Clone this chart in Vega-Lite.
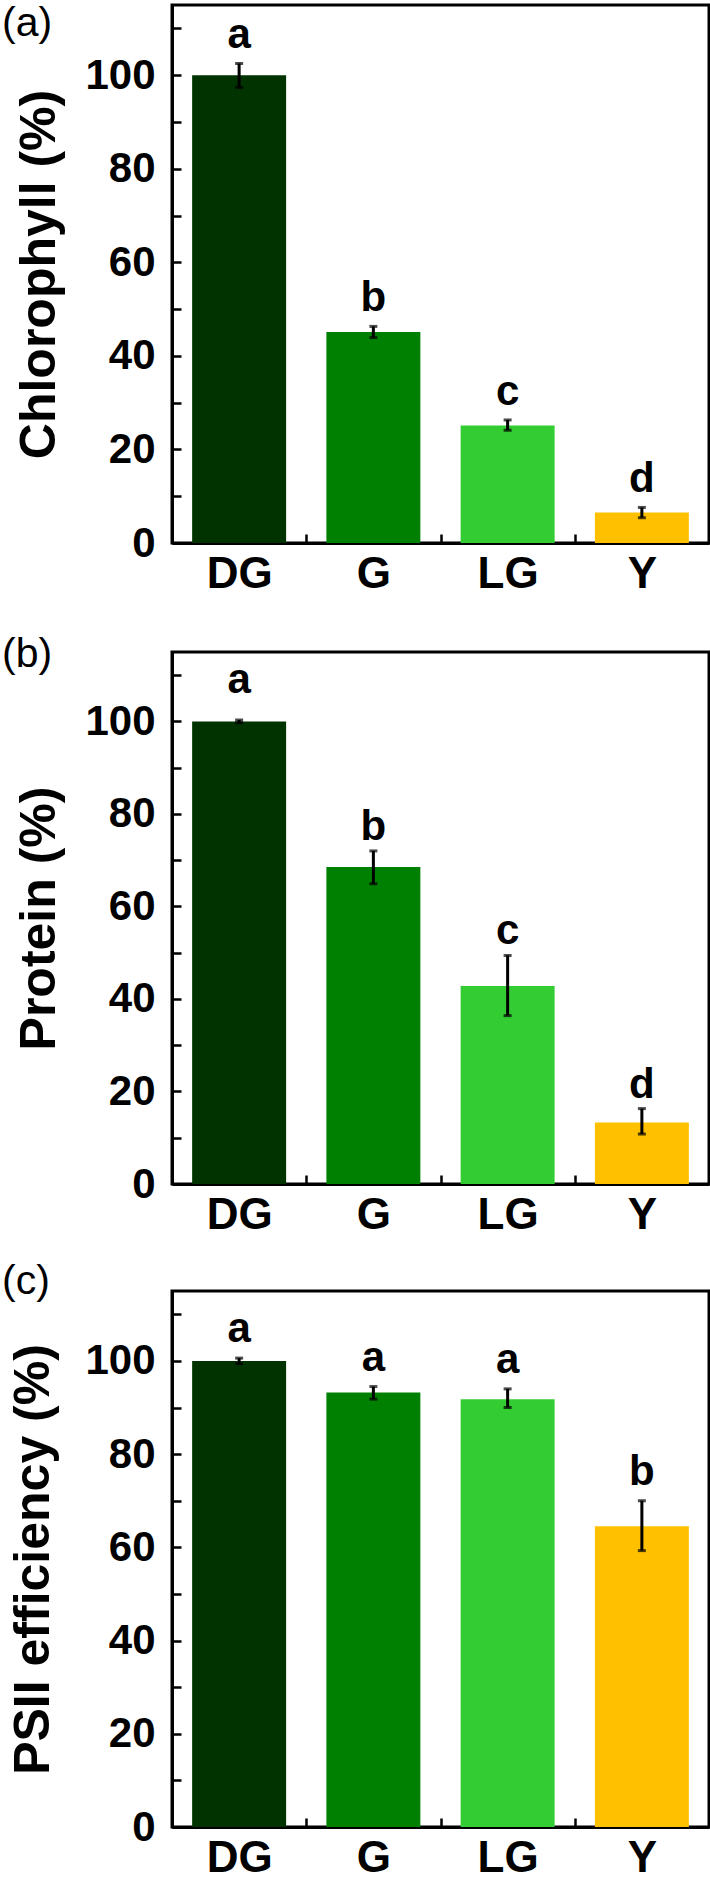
{
  "$schema": "https://vega.github.io/schema/vega-lite/v6.json",
  "padding": {"left": 0, "top": 1, "right": 1, "bottom": 0},
  "background": "white",
  "datasets": {
    "chl": [
      {"cat": "DG", "value": 100, "lo": 97.4, "hi": 102.5, "letter": "a"},
      {"cat": "G", "value": 45.1, "lo": 43.9, "hi": 46.3, "letter": "b"},
      {"cat": "LG", "value": 25.1, "lo": 24.1, "hi": 26.3, "letter": "c"},
      {"cat": "Y", "value": 6.5, "lo": 5.4, "hi": 7.6, "letter": "d"}
    ],
    "prot": [
      {"cat": "DG", "value": 100, "lo": 99.7, "hi": 100.3, "letter": "a"},
      {"cat": "G", "value": 68.5, "lo": 64.9, "hi": 72.0, "letter": "b"},
      {"cat": "LG", "value": 42.8, "lo": 36.4, "hi": 49.4, "letter": "c"},
      {"cat": "Y", "value": 13.3, "lo": 10.8, "hi": 16.3, "letter": "d"}
    ],
    "psii": [
      {"cat": "DG", "value": 100, "lo": 99.4, "hi": 100.6, "letter": "a"},
      {"cat": "G", "value": 93.2, "lo": 91.8, "hi": 94.5, "letter": "a"},
      {"cat": "LG", "value": 91.8, "lo": 90.0, "hi": 94.0, "letter": "a"},
      {"cat": "Y", "value": 64.5, "lo": 59.3, "hi": 70.0, "letter": "b"}
    ]
  },
  "config": {
    "font": "Arial",
    "view": {"stroke": "black", "strokeWidth": 3},
    "axis": {
      "grid": false,
      "domainColor": "black",
      "domainWidth": 3,
      "tickColor": "black",
      "tickWidth": 2.5,
      "tickSize": -9,
      "labelColor": "black",
      "labelFont": "Arial",
      "labelFontWeight": "bold",
      "titleColor": "black",
      "titleFont": "Arial",
      "titleFontWeight": "bold",
      "zindex": 1
    },
    "axisX": {"labelFontSize": 44, "labelPadding": 18, "labelAngle": 0, "tickBand": "extent", "title": null},
    "axisY": {"labelFontSize": 42, "labelPadding": 26, "titleFontSize": 50, "titlePadding": 20},
    "title": {"anchor": "start", "frame": "group", "dx": -170, "fontSize": 41, "fontWeight": "normal", "font": "Arial", "color": "black", "baseline": "top", "offset": 0}
  },
  "spacing": 34,
  "vconcat": [
    {
      "title": {"text": "(a)", "dy": 43.5},
      "width": 537,
      "height": 538,
      "data": {"name": "chl"},
      "encoding": {
        "x": {"field": "cat", "type": "nominal", "sort": null, "scale": {"paddingInner": 0, "paddingOuter": 0}}
      },
      "layer": [
        {
          "mark": {"type": "bar", "width": {"band": 0.7}},
          "encoding": {
            "y": {"field": "value", "type": "quantitative", "scale": {"domain": [0, 115], "nice": false},
                  "axis": {"title": "Chlorophyll (%)", "values": [0, 10, 20, 30, 40, 50, 60, 70, 80, 90, 100, 110], "labelExpr": "datum.value % 20 === 0 ? datum.label : ''"}},
            "color": {"field": "cat", "type": "nominal", "scale": {"domain": ["DG", "G", "LG", "Y"], "range": ["#003300", "#008000", "#33CC33", "#FFC000"]}, "legend": null}
          }
        },
        {
          "mark": {"type": "rule", "strokeWidth": 3, "color": "black"},
          "encoding": {"y": {"field": "lo", "type": "quantitative", "title": "Chlorophyll (%)"}, "y2": {"field": "hi"}}
        },
        {
          "mark": {"type": "tick", "orient": "horizontal", "size": 8, "thickness": 3, "color": "black"},
          "encoding": {"y": {"field": "lo", "type": "quantitative", "title": "Chlorophyll (%)"}}
        },
        {
          "mark": {"type": "tick", "orient": "horizontal", "size": 8, "thickness": 3, "color": "black"},
          "encoding": {"y": {"field": "hi", "type": "quantitative", "title": "Chlorophyll (%)"}}
        },
        {
          "mark": {"type": "text", "fontSize": 42, "fontWeight": "bold", "baseline": "alphabetic", "dy": -15, "color": "black"},
          "encoding": {"y": {"field": "hi", "type": "quantitative", "title": "Chlorophyll (%)"}, "text": {"field": "letter"}}
        }
      ]
    },
    {
      "spacing": 20,
      "vconcat": [
        {
          "title": {"text": "(b)", "dy": 27.6},
          "width": 537,
          "height": 532,
          "data": {"name": "prot"},
          "encoding": {
            "x": {"field": "cat", "type": "nominal", "sort": null, "scale": {"paddingInner": 0, "paddingOuter": 0}}
          },
          "layer": [
            {
              "mark": {"type": "bar", "width": {"band": 0.7}},
              "encoding": {
                "y": {"field": "value", "type": "quantitative", "scale": {"domain": [0, 115], "nice": false},
                      "axis": {"title": "Protein (%)", "values": [0, 10, 20, 30, 40, 50, 60, 70, 80, 90, 100, 110], "labelExpr": "datum.value % 20 === 0 ? datum.label : ''"}},
                "color": {"field": "cat", "type": "nominal", "scale": {"domain": ["DG", "G", "LG", "Y"], "range": ["#003300", "#008000", "#33CC33", "#FFC000"]}, "legend": null}
              }
            },
            {
              "mark": {"type": "rule", "strokeWidth": 3, "color": "black"},
              "encoding": {"y": {"field": "lo", "type": "quantitative", "title": "Protein (%)"}, "y2": {"field": "hi"}}
            },
            {
              "mark": {"type": "tick", "orient": "horizontal", "size": 8, "thickness": 3, "color": "black"},
              "encoding": {"y": {"field": "lo", "type": "quantitative", "title": "Protein (%)"}}
            },
            {
              "mark": {"type": "tick", "orient": "horizontal", "size": 8, "thickness": 3, "color": "black"},
              "encoding": {"y": {"field": "hi", "type": "quantitative", "title": "Protein (%)"}}
            },
            {
              "transform": [{"filter": "datum.cat !== 'DG'"}],
              "mark": {"type": "text", "fontSize": 42, "fontWeight": "bold", "baseline": "alphabetic", "dy": -11, "color": "black"},
              "encoding": {"y": {"field": "hi", "type": "quantitative", "title": "Protein (%)"}, "text": {"field": "letter"}}
            },
            {
              "transform": [{"filter": "datum.cat === 'DG'"}],
              "mark": {"type": "text", "fontSize": 42, "fontWeight": "bold", "baseline": "alphabetic", "dy": -27, "color": "black"},
              "encoding": {"y": {"field": "hi", "type": "quantitative", "title": "Protein (%)"}, "text": {"field": "letter"}}
            }
          ]
        },
        {
          "title": {"text": "(c)", "dy": 16.1},
          "width": 537,
          "height": 536,
          "data": {"name": "psii"},
          "encoding": {
            "x": {"field": "cat", "type": "nominal", "sort": null, "scale": {"paddingInner": 0, "paddingOuter": 0}}
          },
          "layer": [
            {
              "mark": {"type": "bar", "width": {"band": 0.7}},
              "encoding": {
                "y": {"field": "value", "type": "quantitative", "scale": {"domain": [0, 115], "nice": false},
                      "axis": {"title": "PSII efficiency (%)", "titlePadding": 26, "values": [0, 10, 20, 30, 40, 50, 60, 70, 80, 90, 100, 110], "labelExpr": "datum.value % 20 === 0 ? datum.label : ''"}},
                "color": {"field": "cat", "type": "nominal", "scale": {"domain": ["DG", "G", "LG", "Y"], "range": ["#003300", "#008000", "#33CC33", "#FFC000"]}, "legend": null}
              }
            },
            {
              "mark": {"type": "rule", "strokeWidth": 3, "color": "black"},
              "encoding": {"y": {"field": "lo", "type": "quantitative", "title": "PSII efficiency (%)"}, "y2": {"field": "hi"}}
            },
            {
              "mark": {"type": "tick", "orient": "horizontal", "size": 8, "thickness": 3, "color": "black"},
              "encoding": {"y": {"field": "lo", "type": "quantitative", "title": "PSII efficiency (%)"}}
            },
            {
              "mark": {"type": "tick", "orient": "horizontal", "size": 8, "thickness": 3, "color": "black"},
              "encoding": {"y": {"field": "hi", "type": "quantitative", "title": "PSII efficiency (%)"}}
            },
            {
              "mark": {"type": "text", "fontSize": 42, "fontWeight": "bold", "baseline": "alphabetic", "dy": -16, "color": "black"},
              "encoding": {"y": {"field": "hi", "type": "quantitative", "title": "PSII efficiency (%)"}, "text": {"field": "letter"}}
            }
          ]
        }
      ]
    }
  ]
}
